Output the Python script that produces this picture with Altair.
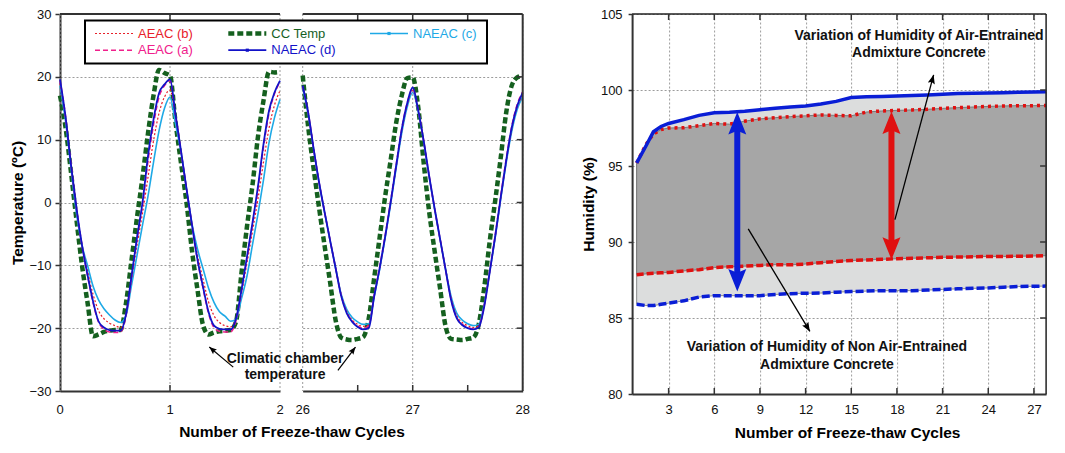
import math
import altair as alt
import pandas as pd

FONT = "Liberation Sans"

# ---------------- Temperature data: cycles 0-2 ----------------
t_early = [0.0, 0.05, 0.1, 0.15, 0.2, 0.25, 0.3, 0.35, 0.4, 0.45, 0.5, 0.55, 0.6, 0.65, 0.7, 0.75,
           0.8, 0.85, 0.9, 0.95, 1.0, 1.05, 1.1, 1.15, 1.2, 1.25, 1.3, 1.35, 1.4, 1.45, 1.5, 1.55,
           1.6, 1.65, 1.7, 1.75, 1.8, 1.85, 1.9, 1.95, 2.0]
cc_early = [17.0, 12.0, 4.8, -2.8, -10.0, -15.9, -21.3, -21.0, -20.6, -20.4, -20.3, -20.3, -16.0, -9.2,
            -2.4, 4.0, 11.0, 17.0, 21.1, 20.6, 20.2, 12.8, 6.3, 0.0, -7.7, -13.9, -19.5, -21.0, -20.7,
            -20.5, -20.4, -20.3, -19.0, -11.2, -3.8, 2.8, 10.5, 16.2, 20.8, 20.7, 20.8]
naeac_c_early = [18.6, 13.0, 5.5, -1.8, -6.8, -10.0, -13.3, -15.5, -16.9, -17.9, -18.7, -19.1, -18.0,
                 -13.2, -8.4, -3.6, 1.0, 6.4, 11.4, 15.0, 16.8, 12.5, 8.0, 2.2, -3.4, -7.4, -10.5, -13.6,
                 -15.9, -17.4, -18.1, -18.9, -18.6, -15.3, -11.7, -6.7, -1.8, 3.6, 9.5, 13.5, 16.4]
aeac_b_early = [19.0, 13.4, 5.8, -1.3, -6.8, -10.9, -14.6, -17.2, -18.5, -19.2, -19.6, -19.9, -17.9,
                -12.3, -6.8, -1.7, 4.0, 9.8, 14.2, 16.8, 17.9, 13.8, 8.1, 2.2, -3.5, -8.4, -12.2, -15.8,
                -18.0, -19.1, -19.6, -19.8, -18.4, -14.4, -9.6, -4.6, 0.6, 6.4, 11.8, 15.5, 17.8]
aeac_a_early = [19.4, 13.8, 6.1, -0.9, -6.8, -11.6, -15.9, -19.0, -20.2, -20.6, -20.7, -20.6, -18.0,
                -12.0, -5.9, -0.4, 6.6, 12.4, 16.8, 18.6, 19.4, 14.0, 8.2, 2.2, -3.6, -9.2, -13.6, -17.6,
                -19.9, -20.5, -20.6, -20.6, -18.8, -14.1, -8.9, -3.5, 2.2, 8.8, 14.2, 17.3, 19.2]
naeac_d_early = [19.6, 13.7, 6.0, -0.9, -6.8, -11.5, -15.7, -18.9, -19.9, -20.3, -20.4, -20.4, -17.8,
                 -11.7, -5.6, 0.0, 7.4, 13.2, 17.4, 18.8, 19.6, 14.0, 8.2, 2.2, -3.6, -9.1, -13.4, -17.4,
                 -19.6, -20.1, -20.2, -20.2, -18.5, -13.9, -8.6, -3.2, 2.6, 9.3, 14.6, 17.5, 19.4]

# ---------------- Temperature data: cycles 26-28 ----------------
t_late = [26.0, 26.05, 26.1, 26.15, 26.2, 26.25, 26.3, 26.35, 26.4, 26.45, 26.5, 26.55, 26.6, 26.65,
          26.7, 26.75, 26.8, 26.85, 26.9, 26.95, 27.0, 27.05, 27.1, 27.15, 27.2, 27.25, 27.3, 27.35,
          27.4, 27.45, 27.5, 27.55, 27.6, 27.65, 27.7, 27.75, 27.8, 27.85, 27.9, 27.95, 28.0]
cc_late = [20.2, 12.0, 5.3, -1.0, -7.0, -12.8, -18.8, -21.5, -21.8, -21.9, -21.7, -21.4, -18.5, -12.0,
           -5.5, 1.0, 6.8, 12.7, 17.0, 19.8, 19.9, 15.2, 6.3, -1.5, -7.8, -13.8, -19.8, -21.7, -21.8,
           -21.9, -21.7, -21.5, -19.4, -13.6, -6.2, 0.3, 7.1, 14.3, 18.6, 19.9, 20.2]
naeac_c_late = [18.2, 14.0, 8.4, 3.0, -1.7, -6.2, -10.5, -14.6, -17.0, -18.3, -19.0, -19.4, -19.3, -15.0,
                -10.6, -5.6, -0.2, 5.5, 11.0, 15.2, 17.5, 14.5, 9.6, 4.0, -1.2, -6.0, -10.7, -15.0, -17.6,
                -18.7, -19.3, -19.6, -19.4, -16.2, -11.0, -5.6, 0.5, 6.3, 11.3, 14.8, 16.9]
aeac_b_late = [18.4, 14.2, 8.5, 3.1, -1.6, -6.1, -10.5, -14.7, -17.3, -18.7, -19.4, -19.7, -19.5, -14.9,
               -10.5, -5.5, 0.0, 5.7, 11.3, 15.5, 17.9, 14.6, 9.7, 4.1, -1.1, -5.9, -10.7, -15.3, -18.0,
               -19.1, -19.6, -19.9, -19.6, -16.4, -11.0, -5.5, 0.6, 6.5, 11.6, 15.1, 17.2]
aeac_a_late = [18.5, 14.3, 8.5, 3.1, -1.6, -6.1, -10.5, -14.8, -17.5, -18.9, -19.7, -20.0, -19.7, -14.7,
               -10.2, -5.2, 0.3, 6.0, 11.7, 15.8, 18.1, 14.7, 9.8, 4.2, -1.0, -5.9, -10.8, -15.5, -18.3,
               -19.4, -19.9, -20.1, -19.8, -16.4, -10.9, -5.2, 1.0, 6.9, 12.1, 15.6, 17.6]
naeac_d_late = [18.6, 14.3, 8.5, 3.1, -1.6, -6.1, -10.5, -14.9, -17.6, -19.0, -19.8, -20.2, -20.0, -14.9,
                -10.4, -5.4, 0.1, 5.9, 11.6, 15.8, 18.3, 14.7, 9.8, 4.2, -1.0, -5.9, -10.8, -15.6, -18.4,
                -19.5, -20.0, -20.2, -19.9, -16.6, -11.1, -5.4, 0.8, 6.7, 11.9, 15.4, 17.5]

series_names = ["CC Temp", "NAEAC (c)", "AEAC (b)", "AEAC (a)", "NAEAC (d)"]
ticks_early = [0, 1, 2]
ticks_late = [26, 27, 28]
minor_early = [1]
minor_late = [26.5, 27, 27.5]
ticks_temp = [-30, -20, -10, 0, 10, 20, 30]
inner_temp = [-20, -10, 0, 10, 20]

# ---------------- Humidity data ----------------
cycles_h = [0.9, 1.5, 2, 2.5, 3, 4, 5, 6, 7, 8, 9, 10, 11, 12, 13, 14, 15, 16, 17, 18, 19, 20, 21, 22,
            23, 24, 25, 26, 27, 27.8]
nae_max = [95.2, 96.3, 97.25, 97.6, 97.8, 98.05, 98.33, 98.5, 98.53, 98.6, 98.7, 98.8, 98.88, 98.95,
           99.08, 99.25, 99.5, 99.56, 99.58, 99.6, 99.63, 99.67, 99.72, 99.77, 99.79, 99.8, 99.82, 99.85,
           99.87, 99.89]
ae_max = [95.2, 96.4, 97.1, 97.4, 97.5, 97.52, 97.65, 97.8, 97.75, 97.95, 98.1, 98.18, 98.25, 98.3,
          98.36, 98.33, 98.3, 98.55, 98.62, 98.66, 98.69, 98.73, 98.79, 98.84, 98.88, 98.92, 98.95,
          98.97, 98.97, 98.98]
ae_min = [87.85, 87.9, 87.95, 87.97, 88.0, 88.1, 88.18, 88.32, 88.37, 88.41, 88.46, 88.51, 88.5, 88.55,
          88.64, 88.72, 88.78, 88.82, 88.86, 88.9, 88.93, 88.96, 88.99, 89.01, 89.03, 89.05, 89.05,
          89.06, 89.08, 89.1]
nae_min = [85.9, 85.82, 85.82, 85.9, 85.98, 86.13, 86.38, 86.47, 86.47, 86.47, 86.47, 86.55, 86.6,
           86.63, 86.64, 86.7, 86.74, 86.77, 86.8, 86.8, 86.8, 86.84, 86.88, 86.92, 86.95, 86.98, 87.03,
           87.07, 87.09, 87.1]
ticks_cycles = [3, 6, 9, 12, 15, 18, 21, 24, 27]
ticks_hum = [80, 85, 90, 95, 100, 105]
inner_hum = [85, 90, 95, 100]

# ---------------- Annotations ----------------
chamber_label = ["Climatic chamber", "temperature"]
chamber_label_pos = [(25.84, -24.9), (25.84, -27.5)]
chamber_arrow_early = (1.575, -26.2, 1.357, -23.0)   # from -> tip
chamber_arrow_late = (26.32, -26.7, 26.48, -23.0)

ae_label = ["Variation of Humidity of Air-Entrained", "Admixture Concrete"]
ae_label_pos = [(19.45, 103.53), (19.45, 102.43)]
ae_arrow = (17.87, 91.47, 20.41, 101.0)
nae_label = ["Variation of Humidity of Non Air-Entrained", "Admixture Concrete"]
nae_label_pos = [(13.4, 83.11), (13.4, 81.93)]
nae_arrow = (8.23, 90.86, 12.28, 84.12)

range_arrows_x = [7.51, 17.64]
range_arrows_top = [98.55, 98.59]
range_arrows_bottom = [86.75, 88.84]

# ---------------- Styles ----------------
C_GREEN = "#15601f"
C_CYAN = "#1ea9e6"
C_RED = "#e8202a"
C_PINK = "#f0208c"
C_BLUE = "#1212c8"
H_BLUE = "#0a1ed6"
H_RED = "#e01010"
GRID_C = "#9c9c9c"
FRAME_C = "#333"

STYLE = {
    "CC Temp": dict(color=C_GREEN, strokeWidth=4.5, strokeDash=[6, 3]),
    "NAEAC (c)": dict(color=C_CYAN, strokeWidth=1.6),
    "AEAC (b)": dict(color=C_RED, strokeWidth=1.2, strokeDash=[2, 2]),
    "AEAC (a)": dict(color=C_PINK, strokeWidth=1.6, strokeDash=[5, 3]),
    "NAEAC (d)": dict(color=C_BLUE, strokeWidth=1.8),
}

W_T, H_T = 220, 377
W_H, H_H = 414, 380
GAP = 22.7
RIGHT_X0 = 632
HEAD = "M0,0L0.6,1.5L0,1.25L-0.6,1.5Z"
ANN_FONT = 14
TK = 6

one = pd.DataFrame({"a": [0]})


def arrow(x0, y0, x1, y1, sx, sy, xf, yf, color, width, r):
    ang = math.degrees(math.atan2((x1 - x0) * sx, (y1 - y0) * sy)) % 360
    line = alt.Chart(pd.DataFrame({"t": [x0], "v": [y0], "t2": [x1], "v2": [y1]})).mark_rule(
        color=color, strokeWidth=width).encode(x=xf("t"), y=yf("v"), x2="t2:Q", y2="v2:Q")
    head = alt.Chart(pd.DataFrame({"t": [x1], "v": [y1]})).mark_point(
        shape=HEAD, filled=True, color=color, opacity=1, size=(2 * r) ** 2, angle=ang,
        strokeWidth=0).encode(x=xf("t"), y=yf("v"))
    return [line, head]


def inward_x_ticks(vals, xf, h):
    d = pd.DataFrame({"t": vals})
    return [alt.Chart(d).mark_rule(color=FRAME_C, strokeWidth=1.5).encode(
                x=xf("t"), y=alt.value(h), y2=alt.value(h - TK)),
            alt.Chart(d).mark_rule(color=FRAME_C, strokeWidth=1.5).encode(
                x=xf("t"), y=alt.value(0), y2=alt.value(TK))]


def inward_y_ticks(vals, yf, w):
    d = pd.DataFrame({"v": vals})
    return [alt.Chart(d).mark_rule(color=FRAME_C, strokeWidth=1.5).encode(
        y=yf("v"), x=alt.value(w - TK), x2=alt.value(w))]


def temp_panel(t, vals, dom, xvals, minor, first):
    xs = alt.Scale(domain=dom, nice=False, zero=False)
    ys = alt.Scale(domain=[-30, 30], nice=False, zero=False)
    xkw = dict(values=xvals, labels=False, ticks=False, grid=False)
    if first:
        xkw.update(title="Number of Freeze-thaw Cycles", titleX=231.5, titlePadding=33)
    else:
        xkw.update(title=None)
    if first:
        yax = alt.Axis(values=ticks_temp, tickCount=20, title="Temperature (ºC)",
                       tickSize=5, labelPadding=4, titlePadding=3, grid=True)
    else:
        yax = alt.Axis(values=ticks_temp, tickCount=20, title=None, labels=False,
                       ticks=False, domain=False, grid=True)
    xax = alt.Axis(**xkw)

    def xf(f):
        return alt.X(f + ":Q", scale=xs, axis=xax)

    def yf(f):
        return alt.Y(f + ":Q", scale=ys, axis=yax)

    tick_df = pd.DataFrame({"t": xvals, "lab": [str(v) for v in xvals]})
    layers = [
        alt.Chart(tick_df).mark_rule(color=GRID_C, strokeWidth=1, strokeDash=[2, 2]).encode(x=xf("t")),
    ]
    for name, v in zip(series_names, vals):
        df = pd.DataFrame({"t": t, "v": v})
        layers.append(alt.Chart(df).mark_line(interpolate="monotone", **STYLE[name]).encode(
            x=xf("t"), y=yf("v")))
    layers.append(alt.Chart(tick_df).mark_text(fontSize=13, color="#111", baseline="middle",
                                               align="center").encode(
        x=xf("t"), y=alt.value(H_T + 19), text="lab:N"))
    layers.append(alt.Chart(one).mark_rule(color=FRAME_C, strokeWidth=2).encode(
        x=alt.value(0), x2=alt.value(W_T), y=alt.value(0)))
    layers += inward_x_ticks(minor, xf, H_T)
    sx = W_T / (dom[1] - dom[0])
    sy = H_T / 60.0
    if first:
        a = chamber_arrow_early
        layers += arrow(a[0], a[1], a[2], a[3], sx, sy, xf, yf, "black", 1.2, 5)
    else:
        layers.append(alt.Chart(one).mark_rule(color=FRAME_C, strokeWidth=2).encode(
            x=alt.value(W_T), y=alt.value(0), y2=alt.value(H_T)))
        layers += inward_y_ticks(inner_temp, yf, W_T)
        a = chamber_arrow_late
        layers += arrow(a[0], a[1], a[2], a[3], sx, sy, xf, yf, "black", 1.2, 5)
        tdf = pd.DataFrame({"t": [p[0] for p in chamber_label_pos], "v": [p[1] for p in chamber_label_pos],
                            "s": chamber_label})
        layers.append(alt.Chart(tdf).mark_text(fontSize=ANN_FONT, fontWeight="bold", color="#111",
                                               align="center", baseline="middle").encode(
            x=xf("t"), y=yf("v"), text="s:N"))
        # legend box (pixel positions relative to this panel)
        layers.append(alt.Chart(one).mark_rect(fill="white", stroke="black", strokeWidth=2).encode(
            x=alt.value(-217.7), x2=alt.value(184.3), y=alt.value(6.5), y2=alt.value(49.5)))
        items = [("AEAC (b)", -207.7, 19.5), ("CC Temp", -74.4, 19.5), ("NAEAC (c)", 67.3, 19.5),
                 ("AEAC (a)", -207.7, 36.2), ("NAEAC (d)", -74.4, 36.2)]
        for name, x0, y0 in items:
            lw = dict(STYLE[name])
            col = lw.pop("color")
            layers.append(alt.Chart(one).mark_rule(color=col, **lw).encode(
                x=alt.value(x0), x2=alt.value(x0 + 38), y=alt.value(y0)))
            if name.startswith("NAEAC"):
                layers.append(alt.Chart(one).mark_point(filled=True, color=col, size=10, shape="square",
                                                        opacity=1).encode(
                    x=alt.value(x0 + 19), y=alt.value(y0)))
            layers.append(alt.Chart(one).mark_text(align="left", baseline="middle", fontSize=13,
                                                   color=col).encode(
                x=alt.value(x0 + 43), y=alt.value(y0), text=alt.value(name)))
    return alt.layer(*layers).properties(width=W_T, height=H_T)


sub1 = temp_panel(t_early, [cc_early, naeac_c_early, aeac_b_early, aeac_a_early, naeac_d_early],
                  [0, 2], ticks_early, minor_early, True)
sub2 = temp_panel(t_late, [cc_late, naeac_c_late, aeac_b_late, aeac_a_late, naeac_d_late],
                  [26, 28], ticks_late, minor_late, False)

spacer = alt.Chart(one).mark_point(opacity=0).encode(
    x=alt.X("a:Q", axis=None), y=alt.Y("a:Q", axis=None)).properties(
    width=RIGHT_X0 - (60 + 2 * W_T + GAP) - 2 * GAP, height=10)

# ---------------- Humidity panel ----------------
hx = alt.Scale(domain=[0.6, 27.8], nice=False, zero=False)
hy = alt.Scale(domain=[80, 105], nice=False, zero=False)
hxax = alt.Axis(values=ticks_cycles, tickCount=40, format="d", ticks=False,
                labelPadding=9, grid=True, title="Number of Freeze-thaw Cycles", titlePadding=9,
                titleX=215)
hyax = alt.Axis(values=ticks_hum, tickCount=20, title="Humidity (%)", tickSize=4,
                labelPadding=6, titlePadding=4, grid=True)


def hxf(f):
    return alt.X(f + ":Q", scale=hx, axis=hxax)


def hyf(f):
    return alt.Y(f + ":Q", scale=hy, axis=hyax)


hdf = pd.DataFrame({"c": cycles_h, "nmax": nae_max, "nmin": nae_min, "amax": ae_max, "amin": ae_min})
hl = []
hl.append(alt.Chart(hdf).mark_area(color="#dcdddd", stroke="#8a8a8a", strokeWidth=1, opacity=1).encode(
    x=hxf("c"), y=hyf("nmin"), y2="nmax:Q"))
hl.append(alt.Chart(hdf).mark_area(color="#a6a6a6", stroke="#7a7a7a", strokeWidth=1, opacity=1).encode(
    x=hxf("c"), y=hyf("amin"), y2="amax:Q"))
hl.append(alt.Chart(hdf).mark_line(color=H_RED, strokeWidth=3.5, strokeDash=[7, 3]).encode(
    x=hxf("c"), y=hyf("amin")))
hl.append(alt.Chart(hdf).mark_line(color=H_RED, strokeWidth=3.5, strokeDash=[3, 4]).encode(
    x=hxf("c"), y=hyf("amax")))
hl.append(alt.Chart(hdf).mark_line(color=H_BLUE, strokeWidth=3.5, strokeDash=[8, 3]).encode(
    x=hxf("c"), y=hyf("nmin")))
hl.append(alt.Chart(hdf).mark_line(color=H_BLUE, strokeWidth=3.5).encode(
    x=hxf("c"), y=hyf("nmax")))

hsx = W_H / (27.8 - 0.6)
hsy = H_H / 25.0
head_units = 14 / hsy
for xa, top, bot, col in zip(range_arrows_x, range_arrows_top, range_arrows_bottom, [H_BLUE, H_RED]):
    sdf = pd.DataFrame({"c": [xa], "y0": [bot + head_units], "y1": [top - head_units]})
    hl.append(alt.Chart(sdf).mark_rule(color=col, strokeWidth=6).encode(x=hxf("c"), y=hyf("y0"), y2="y1:Q"))
    pdf = pd.DataFrame({"c": [xa, xa], "y": [top, bot], "ang": [0, 180]})
    hl.append(alt.Chart(pdf).mark_point(shape=HEAD, filled=True, color=col, opacity=1, size=900,
                                        strokeWidth=0).encode(
        x=hxf("c"), y=hyf("y"), angle=alt.Angle("ang:Q", scale=None)))

for a in [ae_arrow, nae_arrow]:
    hl += arrow(a[0], a[1], a[2], a[3], hsx, hsy, hxf, hyf, "black", 1.3, 6)

for lab, pos in [(ae_label, ae_label_pos), (nae_label, nae_label_pos)]:
    tdf = pd.DataFrame({"t": [p[0] for p in pos], "v": [p[1] for p in pos], "s": lab})
    hl.append(alt.Chart(tdf).mark_text(fontSize=ANN_FONT, fontWeight="bold", color="#111", align="center",
                                       baseline="middle").encode(x=hxf("t"), y=hyf("v"), text="s:N"))

hl.append(alt.Chart(one).mark_rule(color="#222", strokeWidth=1.5).encode(
    x=alt.value(0), x2=alt.value(W_H), y=alt.value(0)))
hl.append(alt.Chart(one).mark_rule(color="#222", strokeWidth=1.5).encode(
    x=alt.value(W_H), y=alt.value(0), y2=alt.value(H_H)))
hl += inward_x_ticks(ticks_cycles, hxf, H_H)
hl += inward_y_ticks(inner_hum, hyf, W_H)

right = alt.layer(*hl).properties(width=W_H, height=H_H)

chart = alt.hconcat(sub1, sub2, spacer, right, spacing=GAP, bounds="flush").properties(
    padding={"left": 2, "top": 0, "right": 0, "bottom": 0}
).configure(font=FONT).configure_view(stroke=None).configure_axis(
    labelFont=FONT, titleFont=FONT, labelFontSize=13, labelColor="#111", titleFontSize=15.5,
    titleFontWeight="bold", titleColor="#000", gridColor=GRID_C, gridDash=[2, 2], gridWidth=1,
    domainColor=FRAME_C, domainWidth=2, tickColor=FRAME_C, tickWidth=1.5, labelFlush=False,
    labelOverlap=False, labelBound=False
)

chart.save("out.html", embed_options={"renderer": "svg", "actions": False})
